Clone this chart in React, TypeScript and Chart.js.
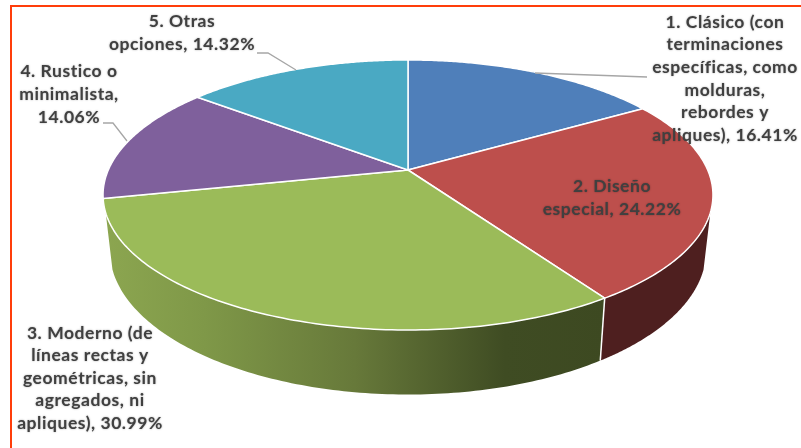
import React, { useEffect, useRef } from "react";
import { Chart, registerables } from "chart.js";

Chart.register(...registerables);

const categories = [
  "1. Clásico (con terminaciones específicas, como molduras, rebordes y apliques)",
  "2. Diseño especial",
  "3. Moderno (de líneas rectas y geométricas, sin agregados, ni apliques)",
  "4. Rustico o minimalista",
  "5. Otras opciones",
];
const shares = [16.41, 24.22, 30.99, 14.06, 14.32];
const sliceColors = ["#4f7fba", "#bd4f4c", "#9bbb59", "#7f609c", "#4aa9c3"];

const labelLines = [
  ["1. Clásico (con", "terminaciones", "específicas, como", "molduras,", "rebordes y", "apliques), 16.41%"],
  ["2. Diseño", "especial, 24.22%"],
  ["3. Moderno (de", "líneas rectas y", "geométricas, sin", "agregados, ni", "apliques), 30.99%"],
  ["4. Rustico o", "minimalista,", "14.06%"],
  ["5. Otras", "opciones, 14.32%"],
];

// layout of the drawing, separate from the data
const labelBoxes = [
  { x: 725, y: 22, step: 22.7 },
  { x: 612, y: 186, step: 23 },
  { x: 90, y: 333, step: 22.5 },
  { x: 69, y: 71, step: 23 },
  { x: 182, y: 21, step: 23 },
];
const leaders = [
  [[535, 73], [647, 77]],
  [],
  [],
  [[103, 123], [113, 123], [127, 141]],
  [[257, 53], [268, 53], [296, 70]],
];

const CX = 408;
const TILT = -0.185;
const top = { R: 299.7, S: 130.4, y0: 170 };
const low = { R: 293, S: 139, y0: 224 };
const SIDE_FROM = (108 - 90) * (Math.PI / 180);
const SIDE_TO = (252 - 90) * (Math.PI / 180);

type Rim = { R: number; S: number; y0: number };
const project = (rim: Rim, a: number, r = 1): [number, number] => {
  const u = r * Math.cos(a);
  const v = r * Math.sin(a);
  const w = 1 + TILT * v;
  return [CX + (rim.R * u) / w, rim.y0 + (rim.S * v) / w];
};

const perspectivePie = {
  id: "perspectivePie",
  beforeDatasetDraw(chart: any) {
    const ctx: CanvasRenderingContext2D = chart.ctx;
    const arcs = chart.getDatasetMeta(0).data;
    const norm = (a: number) => {
      const two = Math.PI * 2;
      return ((a + Math.PI / 2) % two + two) % two - Math.PI / 2;
    };
    const n = 120;

    ctx.save();
    ctx.lineJoin = "round";

    // side wall, only the front part of the rim is visible
    arcs.forEach((arc: any, i: number) => {
      const s = Math.max(norm(arc.startAngle), SIDE_FROM);
      const eRaw = arc.endAngle - (arc.startAngle - norm(arc.startAngle));
      const e = Math.min(eRaw, SIDE_TO);
      if (e <= s) return;
      ctx.beginPath();
      for (let k = 0; k <= n; k++) {
        const [x, y] = project(top, s + ((e - s) * k) / n);
        k ? ctx.lineTo(x, y) : ctx.moveTo(x, y);
      }
      for (let k = n; k >= 0; k--) {
        const [x, y] = project(low, s + ((e - s) * k) / n);
        ctx.lineTo(x, y);
      }
      ctx.closePath();
      if (i === 2) {
        const g = ctx.createLinearGradient(104, 0, 605, 0);
        g.addColorStop(0, "#8ca650");
        g.addColorStop(0.2, "#7f9848");
        g.addColorStop(0.5, "#67793a");
        g.addColorStop(0.8, "#3f4c23");
        g.addColorStop(1, "#3d4921");
        ctx.fillStyle = g;
      } else {
        ctx.fillStyle = "#4e1f1f";
      }
      ctx.fill();
    });

    // white seam between the two visible wall parts
    const seam = arcs[1].endAngle - (arcs[1].startAngle - norm(arcs[1].startAngle));
    const [sx1, sy1] = project(top, seam);
    const [sx2, sy2] = project(low, seam);
    ctx.strokeStyle = "#ffffff";
    ctx.lineWidth = 1.5;
    ctx.beginPath();
    ctx.moveTo(sx1, sy1);
    ctx.lineTo(sx2, sy2);
    ctx.stroke();

    // top face
    arcs.forEach((arc: any) => {
      const s = arc.startAngle;
      const e = arc.endAngle;
      ctx.beginPath();
      const [cx, cy] = project(top, 0, 0);
      ctx.moveTo(cx, cy);
      for (let k = 0; k <= n; k++) {
        const [x, y] = project(top, s + ((e - s) * k) / n);
        ctx.lineTo(x, y);
      }
      ctx.closePath();
      ctx.fillStyle = arc.options.backgroundColor;
      ctx.fill();
      ctx.strokeStyle = "#ffffff";
      ctx.lineWidth = 1.5;
      ctx.stroke();
    });
    ctx.restore();
    return false;
  },
  afterDraw(chart: any) {
    const ctx: CanvasRenderingContext2D = chart.ctx;
    ctx.save();

    // frame
    ctx.strokeStyle = "#ff3d0a";
    ctx.lineWidth = 2;
    ctx.beginPath();
    ctx.moveTo(11, 448);
    ctx.lineTo(11, 6);
    ctx.lineTo(801, 6);
    ctx.stroke();

    // leader lines
    ctx.strokeStyle = "#a6a6a6";
    ctx.lineWidth = 1.3;
    leaders.forEach((pts) => {
      if (!pts.length) return;
      ctx.beginPath();
      pts.forEach(([x, y], k) => (k ? ctx.lineTo(x, y) : ctx.moveTo(x, y)));
      ctx.stroke();
    });

    // data labels
    ctx.font = "bold 17.5px Lato";
    (ctx as any).letterSpacing = "0.55px";
    ctx.textAlign = "center";
    ctx.textBaseline = "middle";
    ctx.fillStyle = "#404040";
    ctx.shadowColor = "rgba(0,0,0,0.35)";
    ctx.shadowBlur = 2;
    labelLines.forEach((lines, i) => {
      const b = labelBoxes[i];
      lines.forEach((t, k) => ctx.fillText(t, b.x, b.y + k * b.step));
    });
    ctx.restore();
  },
};

export default function App() {
  const ref = useRef<HTMLCanvasElement>(null);
  useEffect(() => {
    document.body.style.margin = "0";
    const chart = new Chart(ref.current!, {
      type: "pie",
      data: {
        labels: categories,
        datasets: [{ data: shares, backgroundColor: sliceColors, borderColor: "#ffffff", borderWidth: 1.5 }],
      },
      options: {
        animation: false,
        responsive: false,
        devicePixelRatio: 1,
        plugins: { legend: { display: false }, tooltip: { enabled: false } },
      },
      plugins: [perspectivePie],
    } as any);
    return () => chart.destroy();
  }, []);
  return <canvas ref={ref} width={801} height={448} style={{ display: "block", width: 801, height: 448 }} />;
}
